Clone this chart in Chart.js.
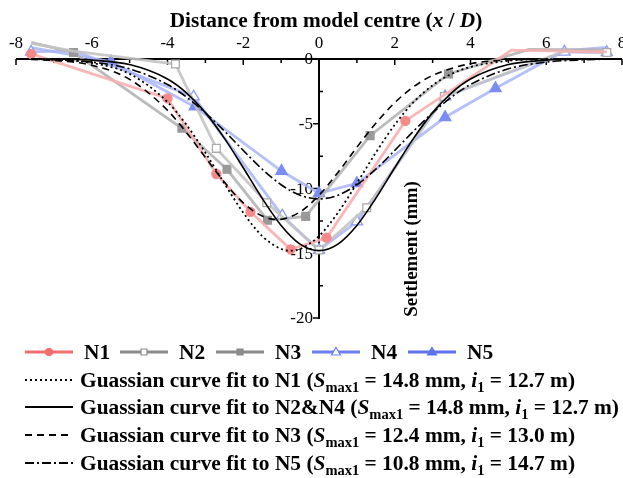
<!DOCTYPE html>
<html><head><meta charset="utf-8">
<script src="https://cdn.jsdelivr.net/npm/chart.js@4.4.1/dist/chart.umd.min.js"></script>
<style>html,body{margin:0;padding:0;background:#fff;}#wrap{width:623px;height:478px;}</style>
</head><body><div id="wrap"><canvas id="c" width="623" height="478"></canvas></div>
<script>
// ---- tick values ----
const xTicks = [-8,-6,-4,-2,0,2,4,6,8];
const xMinorTicks = [-7,-5,-3,-1,1,3,5,7];
const yTicks = [0,-5,-10,-15,-20];
const yMinorTicks = [-2.5,-7.5,-12.5,-17.5];

// ---- measured data (x/D, settlement mm) ----
const n1X = [-7.6,-4.0,-2.71,-1.81,-0.75,0.2,2.28,5.08,7.6];
const n1Y = [0.4,-3.04,-8.88,-11.8,-14.7,-13.8,-4.78,0.69,0.55];
const n2X = [-7.6,-6.48,-3.79,-2.71,-1.38,0,1.26,3.31,6.48,7.6];
const n2Y = [1.2,0.6,-0.39,-6.9,-11.1,-14.75,-11.48,-2.9,0.6,0.5];
const n3X = [-7.6,-6.48,-3.62,-2.43,-1.36,-0.35,1.35,3.42,5.54,7.6];
const n3Y = [1.29,0.5,-5.35,-8.52,-12.45,-12.15,-5.92,-1.16,0.75,0.7];
const n4X = [-7.6,-6.48,-3.31,-0.97,0,1.0,3.33,6.48,7.6];
const n4Y = [0.55,0.64,-2.91,-12.1,-14.75,-12.56,-2.9,0.55,0.52];
const n5X = [-7.6,-5.49,-3.28,-0.99,0,1.0,3.33,4.66,6.48,7.61];
const n5Y = [0.87,-0.2,-3.68,-8.65,-10.37,-9.6,-4.5,-2.26,0.64,0.9];

// ---- fitted curves ----
const fitN1X = [-7.6,-7,-6,-5,-4,-3.5,-3,-2.5,-2,-1.5,-1,-0.75,-0.5,0,0.5,1,1.5,2,2.5,3,3.5,4,5,6,7,7.6];
const fitN1Y = [0,-0.06,-0.3,-1.15,-3.32,-5.08,-7.23,-9.6,-11.87,-13.67,-14.67,-14.8,-14.67,-13.67,-11.87,-9.6,-7.23,-5.08,-3.32,-2.03,-1.15,-0.61,-0.14,-0.02,0,0];
const fitN24X = [-7.6,-7,-6,-5,-4,-3.5,-3,-2.5,-2,-1.5,-1,-0.5,0,0.5,1,1.5,2,2.5,3,3.5,4,5,6,7,7.6];
const fitN24Y = [0,-0.01,-0.09,-0.43,-1.54,-2.61,-4.14,-6.11,-8.4,-10.76,-12.85,-14.29,-14.8,-14.29,-12.85,-10.76,-8.4,-6.11,-4.14,-2.61,-1.54,-0.43,-0.09,-0.01,0];
const fitN3X = [-7.6,-7,-6,-5,-4,-3.5,-3,-2.5,-2,-1.5,-1.1,-0.5,0,0.5,1,1.5,2,2.5,3,4,5,6,7,7.6];
const fitN3Y = [-0.04,-0.11,-0.48,-1.57,-3.96,-5.68,-7.6,-9.5,-11.11,-12.13,-12.4,-11.81,-10.52,-8.76,-6.82,-4.96,-3.37,-2.14,-1.27,-0.36,-0.08,-0.01,0,0];
const fitN5X = [-7.6,-7,-6,-5,-4,-3.5,-3,-2.5,-2,-1.5,-1,-0.5,0,0.5,1,1.5,2,2.5,3,3.5,4,5,6,7,7.6];
const fitN5Y = [-0.01,-0.06,-0.24,-0.76,-1.97,-2.94,-4.16,-5.56,-7.06,-8.51,-9.71,-10.52,-10.8,-10.52,-9.71,-8.51,-7.06,-5.56,-4.16,-2.94,-1.97,-0.76,-0.24,-0.06,-0.01];

const pts = (xs, ys) => xs.map((x, i) => ({x: x, y: ys[i]}));
const SERIF = '"Liberation Serif","Times New Roman",serif';

function fitDS(label, xs, ys, dash, w) {
  return {label, data: pts(xs, ys), borderColor: '#000', borderWidth: w || 1.6, borderDash: dash,
    pointRadius: 0, cubicInterpolationMode: 'monotone', fill: false, clip: false, order: 0};
}
function dataDS(label, xs, ys, line, mFill, mBorder, style, r, order) {
  return {label, data: pts(xs, ys), borderColor: line, borderWidth: 2.8, backgroundColor: mFill,
    pointBackgroundColor: mFill, pointBorderColor: mBorder, pointBorderWidth: 1.3,
    pointStyle: style, pointRadius: r, tension: 0, fill: false, clip: false, order};
}

function richWidth(ctx, segs) {
  let w = 0;
  for (const s of segs) { ctx.font = s.f; w += ctx.measureText(s.t).width; }
  return w;
}
function drawRich(ctx, segs, x, y) {
  ctx.textBaseline = 'alphabetic'; ctx.textAlign = 'left';
  for (const s of segs) {
    ctx.font = s.f;
    ctx.fillText(s.t, x, y + (s.dy || 0));
    x += ctx.measureText(s.t).width;
  }
  return x;
}

const axesPlugin = {
  id: 'axesPlugin',
  beforeDatasetsDraw(chart) {
    const ctx = chart.ctx, xs = chart.scales.x, ys = chart.scales.y;
    const y0 = ys.getPixelForValue(0), x0 = xs.getPixelForValue(0);
    ctx.save();
    ctx.strokeStyle = '#000'; ctx.fillStyle = '#000';
    ctx.lineWidth = 2;
    ctx.beginPath();
    ctx.moveTo(xs.getPixelForValue(-8), y0); ctx.lineTo(xs.getPixelForValue(8), y0);
    ctx.moveTo(x0, ys.getPixelForValue(0)); ctx.lineTo(x0, ys.getPixelForValue(-20) + 1);
    ctx.stroke();
    ctx.lineWidth = 1.5;
    ctx.beginPath();
    for (const t of xTicks) { const p = xs.getPixelForValue(t); ctx.moveTo(p, y0); ctx.lineTo(p, y0 + 6); }
    for (const t of xMinorTicks) { const p = xs.getPixelForValue(t); ctx.moveTo(p, y0); ctx.lineTo(p, y0 + 4); }
    for (const t of yTicks) { const p = ys.getPixelForValue(t); ctx.moveTo(x0, p); ctx.lineTo(x0 - 6, p); }
    for (const t of yMinorTicks) { const p = ys.getPixelForValue(t); ctx.moveTo(x0, p); ctx.lineTo(x0 + 4, p); }
    ctx.stroke();
    ctx.font = '17px ' + SERIF;
    ctx.textAlign = 'center'; ctx.textBaseline = 'middle';
    for (const t of xTicks) ctx.fillText(String(t), xs.getPixelForValue(t), y0 - 15);
    ctx.textAlign = 'right';
    for (const t of yTicks) ctx.fillText(String(t), x0 - 6, ys.getPixelForValue(t) + 1);
    // x title
    const B = 'bold 21.3px ' + SERIF, BI = 'italic bold 21.3px ' + SERIF;
    const segs = [{t: 'Distance from model centre (', f: B}, {t: 'x', f: BI}, {t: ' / ', f: B}, {t: 'D', f: BI}, {t: ')', f: B}];
    const w = richWidth(ctx, segs);
    drawRich(ctx, segs, 326 - w / 2, 27);
    // y title
    ctx.save();
    ctx.translate(417, 249); ctx.rotate(-Math.PI / 2);
    ctx.font = 'bold 19px ' + SERIF; ctx.textAlign = 'center'; ctx.textBaseline = 'alphabetic';
    ctx.fillText('Settlement (mm)', 0, 0);
    ctx.restore();
    ctx.restore();
  },
  afterDraw(chart) {
    const ctx = chart.ctx;
    ctx.save();
    ctx.fillStyle = '#000';
    const F = 21.4;
    const B = 'bold ' + F + 'px ' + SERIF, BI = 'italic bold ' + F + 'px ' + SERIF, SUB = 'bold 14.5px ' + SERIF;
    // row 1
    const items = [
      {t: 'N1', c: '#f26d6d', m: 'circle', fill: '#f26d6d', x: 25},
      {t: 'N2', c: '#8a8a8a', m: 'rect', fill: '#fff', x: 120},
      {t: 'N3', c: '#8a8a8a', m: 'rect', fill: '#8a8a8a', x: 216},
      {t: 'N4', c: '#6b7ff0', m: 'tri', fill: '#fff', x: 312},
      {t: 'N5', c: '#5f73ee', m: 'tri', fill: '#5f73ee', x: 408}
    ];
    const ry = 352;
    for (const it of items) {
      ctx.strokeStyle = it.c; ctx.lineWidth = 3;
      ctx.beginPath(); ctx.moveTo(it.x, ry); ctx.lineTo(it.x + 48, ry); ctx.stroke();
      const mx = it.x + 24;
      ctx.fillStyle = it.fill; ctx.lineWidth = 1.2;
      ctx.beginPath();
      if (it.m === 'circle') ctx.arc(mx, ry, 3.5, 0, Math.PI * 2);
      else if (it.m === 'rect') ctx.rect(mx - 3, ry - 3, 6, 6);
      else { ctx.moveTo(mx, ry - 4.5); ctx.lineTo(mx + 4.5, ry + 3); ctx.lineTo(mx - 4.5, ry + 3); ctx.closePath(); }
      ctx.fill(); ctx.stroke();
      ctx.fillStyle = '#000';
      drawRich(ctx, [{t: it.t, f: B}], it.x + 59, ry + 7);
    }
    // fit rows
    const rows = [
      {dash: [2, 3], n: 'N1', s: '14.8', i: '12.7', y: 380},
      {dash: [], n: 'N2&N4', s: '14.8', i: '12.7', y: 407},
      {dash: [7, 5], n: 'N3', s: '12.4', i: '13.0', y: 435},
      {dash: [9, 3, 2, 3], n: 'N5', s: '10.8', i: '14.7', y: 463}
    ];
    for (const r of rows) {
      ctx.strokeStyle = '#000'; ctx.lineWidth = 1.8; ctx.setLineDash(r.dash);
      ctx.beginPath(); ctx.moveTo(25, r.y); ctx.lineTo(73, r.y); ctx.stroke();
      ctx.setLineDash([]);
      const segs = [
        {t: 'Guassian curve fit to ' + r.n + ' (', f: B},
        {t: 'S', f: BI}, {t: 'max1', f: SUB, dy: 5},
        {t: ' = ' + r.s + ' mm, ', f: B},
        {t: 'i', f: BI}, {t: '1', f: SUB, dy: 5},
        {t: ' = ' + r.i + ' m)', f: B}
      ];
      drawRich(ctx, segs, 80, r.y + 7);
    }
    ctx.restore();
  }
};

new Chart(document.getElementById('c'), {
  type: 'line',
  data: {
    datasets: [
      fitDS('Guassian curve fit to N1', fitN1X, fitN1Y, [2, 3], 1.8),
      fitDS('Guassian curve fit to N2&N4', fitN24X, fitN24Y, [], 1.6),
      fitDS('Guassian curve fit to N3', fitN3X, fitN3Y, [7, 5], 1.6),
      fitDS('Guassian curve fit to N5', fitN5X, fitN5Y, [9, 3, 2, 3], 1.6),
      dataDS('N1', n1X, n1Y, 'rgba(247,175,175,0.9)', '#f48a8a', '#f48a8a', 'circle', 4.5, 1),
      dataDS('N2', n2X, n2Y, 'rgba(195,195,195,0.9)', '#ffffff', '#aaaaaa', 'rect', 5.5, 2),
      dataDS('N3', n3X, n3Y, 'rgba(180,180,180,0.9)', '#999999', '#999999', 'rect', 5.5, 3),
      dataDS('N4', n4X, n4Y, 'rgba(168,180,247,0.85)', '#ffffff', '#8d9cf5', 'triangle', 6.5, 4),
      dataDS('N5', n5X, n5Y, 'rgba(168,180,247,0.85)', '#7b8cf3', '#7b8cf3', 'triangle', 6.5, 5)
    ]
  },
  options: {
    responsive: false, animation: false, devicePixelRatio: 1,
    layout: {autoPadding: false, padding: {left: 16, right: 1, top: 59, bottom: 160}},
    scales: {
      x: {type: 'linear', min: -8, max: 8, display: false},
      y: {type: 'linear', min: -20, max: 0, display: false}
    },
    plugins: {legend: {display: false}, tooltip: {enabled: false}}
  },
  plugins: [axesPlugin]
});
</script></body></html>
